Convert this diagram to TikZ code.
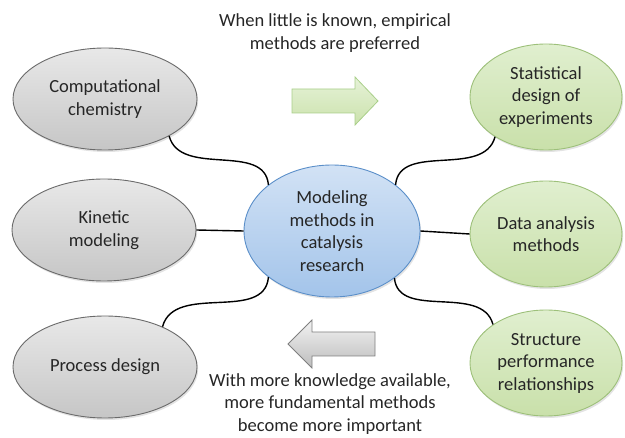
\documentclass[tikz,border=0pt]{standalone}
\usepackage{fontspec}
\setmainfont{Carlito}
\usetikzlibrary{shapes.geometric,shadows}
\definecolor{txt}{HTML}{262626}
\definecolor{grayTop}{HTML}{E8E8E8}
\definecolor{grayBot}{HTML}{C6C6C6}
\definecolor{grayEdge}{HTML}{6A6A6A}
\definecolor{greenTop}{HTML}{E0EFCF}
\definecolor{greenBot}{HTML}{C9E0AA}
\definecolor{greenEdge}{HTML}{9DC07A}
\definecolor{blueTop}{HTML}{D2E2F5}
\definecolor{blueBot}{HTML}{A3C4EA}
\definecolor{blueEdge}{HTML}{5B8FC9}
\definecolor{arrGreenTop}{HTML}{E6F2D8}
\definecolor{arrGreenBot}{HTML}{CBE2AC}
\definecolor{arrGreenEdge}{HTML}{A9CF8A}
\definecolor{arrGrayTop}{HTML}{F2F2F2}
\definecolor{arrGrayBot}{HTML}{BDBDBD}
\definecolor{arrGrayEdge}{HTML}{7F7F7F}
\begin{document}
\begin{tikzpicture}[x=1pt,y=-1pt,
  txtfont/.style={font=\fontsize{18.5}{22.5}\selectfont, text=txt},
  bubble/.style={ellipse, inner sep=0pt, align=center, txtfont, line width=0.9pt,
    drop shadow={opacity=0.22, shadow xshift=1.2pt, shadow yshift=-2pt}},
  graybub/.style={bubble, draw=grayEdge, top color=grayTop, bottom color=grayBot,
    minimum width=184pt, minimum height=102pt},
  greenbub/.style={bubble, draw=greenEdge, top color=greenTop, bottom color=greenBot,
    minimum width=152pt, minimum height=106pt},
  bluebub/.style={bubble, draw=blueEdge, top color=blueTop, bottom color=blueBot,
    minimum width=176pt, minimum height=132pt},
  link/.style={line width=1.4pt, black},
  note/.style={align=center, txtfont, inner sep=0pt}
]
\useasboundingbox (0,0) rectangle (625,438);

% arrows
\path[draw=arrGreenEdge, line width=0.8pt, top color=arrGreenTop, bottom color=arrGreenBot]
  (292,89) -- (355,89) -- (355,77) -- (378,101) -- (355,125) -- (355,113) -- (292,113) -- cycle;
\path[draw=arrGrayEdge, line width=0.8pt, top color=arrGrayTop, bottom color=arrGrayBot]
  (375,332) -- (312,332) -- (312,320) -- (288,344) -- (312,368) -- (312,356) -- (375,356) -- cycle;

% nodes
\node[bluebub] (mc) at (332,231) {Modeling\\methods in\\catalysis\\research};
\node[graybub] (cc) at (105,99) {Computational\\chemistry};
\node[graybub] (km) at (104,230) {Kinetic\\modeling};
\node[graybub] (pd) at (105,367) {Process design};
\node[greenbub] (sd) at (546,97) {Statistical\\design of\\experiments};
\node[greenbub] (da) at (546,234) {Data analysis\\methods};
\node[greenbub] (sp) at (546,363) {Structure\\performance\\relationships};

\node[note] (top) at (335,33) {When little is known, empirical\\methods are preferred};
\node[note] (bot) at (330,404) {With more knowledge available,\\more fundamental methods\\become more important};

% connectors
\draw[link] (cc.-30) to[out=-75, in=95] (mc.144);
\draw[link] (km.east) -- (mc.west);
\draw[link] (pd.35) to[out=75, in=-95] (mc.-144);
\draw[link] (mc.36) to[out=85, in=-105] (sd.-142);
\draw[link] (mc.east) -- (da.west);
\draw[link] (mc.-37) to[out=-85, in=105] (sp.144);
\end{tikzpicture}
\end{document}
